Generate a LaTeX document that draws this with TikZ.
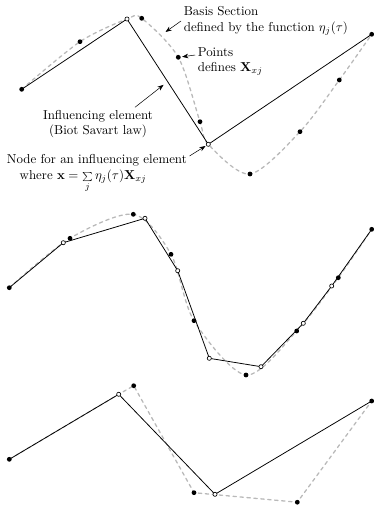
\documentclass[tikz,border=0pt]{standalone}
\usepackage{amsfonts,amsmath,amssymb}
\usetikzlibrary{arrows.meta,calc}
\tikzset{
  every picture/.style={line join=round, line cap=round, >=Stealth},
  basis/.style={gray!55, line width=1pt, dash pattern=on 2.6pt off 2.8pt},
  element/.style={black, line width=0.6pt},
  pnt/.style={circle, fill=black, inner sep=0pt, minimum size=3.7pt},
  elnode/.style={circle, draw=black, fill=white, inner sep=0pt, minimum size=3.2pt, line width=0.5pt},
  lbl/.style={inner sep=2pt},
}
\begin{document}
\begin{tikzpicture}[x=0.775pt,y=-0.775pt]
\useasboundingbox (0,0) rectangle (374,505);
% top: smooth basis section
\coordinate (a1) at (21.7,89.3);
\coordinate (a2) at (80,41.7);
\coordinate (a3) at (141.7,18.3);
\coordinate (a4) at (178.3,57.3);
\coordinate (a5) at (200,121.7);
\coordinate (a6) at (250,174);
\coordinate (a7) at (300,131.7);
\coordinate (a8) at (339.3,80);
\coordinate (a9) at (371.7,34.3);
\coordinate (n1) at (127,19);
\coordinate (n2) at (208.3,144.3);
\draw[basis] plot[smooth] coordinates {(a1) (a2) (n1) (a3) (a4) (a5) (n2) (a6) (a7) (a8) (a9)};
\draw[element] (a1) -- (n1) -- (n2) -- (a9);
\foreach \p in {a1,a2,a3,a4,a5,a6,a7,a8,a9}
  \node[pnt] at (\p) {};
\foreach \p in {n1,n2}
  \node[elnode] at (\p) {};

% labels
\node[lbl,align=left,anchor=west] (basislbl) at (181,21) {Basis Section\\defined by the function $\eta_j(\tau)$};
\node[lbl,align=left,anchor=west] (ptslbl) at (195,61.5) {Points\\defines $\mathbf{X}_{xj}$};
\node[lbl,align=center] (infllbl) at (98,124) {Influencing element\\(Biot Savart law)};
\node[lbl,align=left,anchor=west] (nodelbl) at (4,169) {Node for an influencing element\\\hspace*{10pt}where $\mathbf{x}=\smash{\mathop{\scriptstyle\sum}\limits_j}\,\eta_j(\tau)\mathbf{X}_{xj}$};
\coordinate (bt) at (165.5,32);
\draw[->] (basislbl.west) -- (bt);
\draw[->,shorten >=3pt] ([yshift=5pt]ptslbl.west) -- (a4);
\draw[->,shorten >=4pt] ([xshift=-16pt]infllbl.north east) -- ($(n1)!0.5!(n2)$);
\draw[->,shorten >=2.5pt] ([yshift=-3pt]nodelbl.north east) -- (n2);

% middle: finer elements
\coordinate (b1) at (9.3,287.7);
\coordinate (b2) at (70,238.3);
\coordinate (b3) at (133.3,214.3);
\coordinate (b4) at (171,254.3);
\coordinate (b5) at (194,320.7);
\coordinate (b6) at (246,375);
\coordinate (b7) at (296.7,331);
\coordinate (b8) at (338.3,277.7);
\coordinate (b9) at (371.7,229.3);
\coordinate (m1) at (63.3,242.7);
\coordinate (m2) at (145,218.3);
\coordinate (m3) at (177.7,270.7);
\coordinate (m4) at (209.3,358.3);
\coordinate (m5) at (261,366.7);
\coordinate (m6) at (303.3,323.3);
\coordinate (m7) at (331.7,286);
\draw[basis] plot[smooth] coordinates {(b1) (b2) (b3) (b4) (b5) (b6) (b7) (b8) (b9)};
\draw[element] (b1) -- (m1) -- (m2) -- (m3) -- (m4) -- (m5) -- (m6) -- (m7) -- (b9);
\foreach \p in {b1,b2,b3,b4,b5,b6,b7,b8,b9}
  \node[pnt] at (\p) {};
\foreach \p in {m1,m2,m3,m4,m5,m6,m7}
  \node[elnode] at (\p) {};

% bottom: straight basis section
\coordinate (c1) at (9.3,459.3);
\coordinate (c2) at (133.7,385.7);
\coordinate (c3) at (194,492.7);
\coordinate (c4) at (297.3,502.2);
\coordinate (c5) at (371.7,401);
\coordinate (k1) at (118.7,394.3);
\coordinate (k2) at (215,494.3);
\draw[basis] (c1) -- (k1) -- (c2) -- (c3) -- (c4) -- (c5);
\draw[element] (c1) -- (k1) -- (k2) -- (c5);
\foreach \p in {c1,c2,c3,c4,c5}
  \node[pnt] at (\p) {};
\foreach \p in {k1,k2}
  \node[elnode] at (\p) {};
\end{tikzpicture}
\end{document}
